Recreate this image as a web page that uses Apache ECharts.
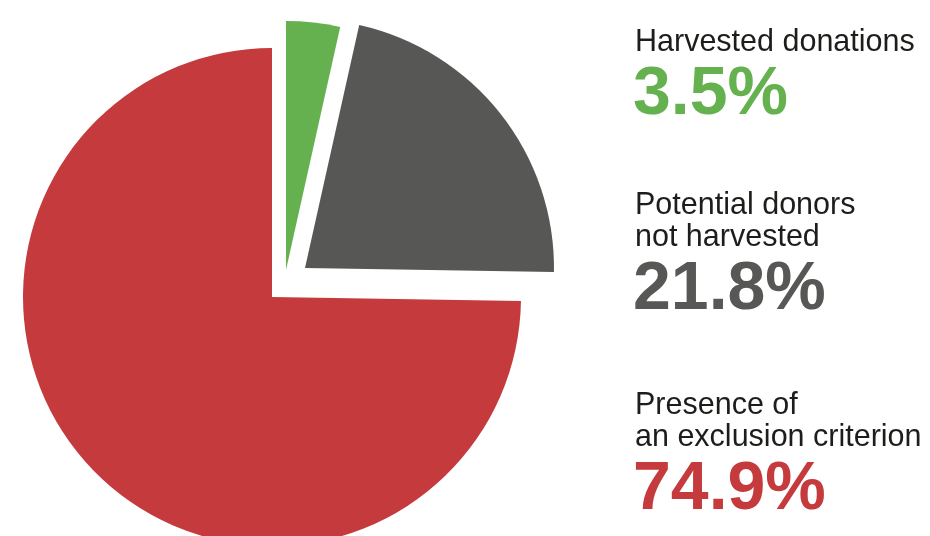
<!DOCTYPE html>
<html>
<head>
<meta charset="utf-8">
<script src="https://cdn.jsdelivr.net/npm/echarts@6/dist/echarts.min.js"></script>
<style>
html,body{margin:0;padding:0;background:#fff;}
#chart{width:930px;height:536px;}
</style>
</head>
<body>
<div id="chart"></div>
<script>
// Data
const categories = ['Harvested donations', 'Potential donors\nnot harvested', 'Presence of\nan exclusion criterion'];
const values = [3.5, 21.8, 74.9];
const colors = ['#65b14f', '#575756', '#c53a3d'];

// Layout (per-slice pie centers to reproduce exploded slices)
const centers = [[286, 270], [305, 268], [272, 297]];
const radius = 249;

const chart = echarts.init(document.getElementById('chart'), null, {renderer: 'canvas'});

const series = centers.map((c, i) => ({
  type: 'pie',
  center: c,
  radius: radius,
  startAngle: 90,
  clockwise: true,
  silent: true,
  animation: false,
  label: {show: false},
  labelLine: {show: false},
  emphasis: {disabled: true},
  itemStyle: {borderWidth: 0},
  data: values.map((v, j) => ({
    value: v,
    name: categories[j],
    itemStyle: {color: j === i ? colors[j] : 'rgba(0,0,0,0)', borderWidth: 0}
  }))
}));

// Text block positions (label first-line baseline, number baseline)
const blocks = [
  {labelBase: 51, numBase: 118},
  {labelBase: 214, numBase: 313},
  {labelBase: 414, numBase: 513}
];
const graphics = [];
const labelSize = 30.5, numSize = 68, lineH = 32;
categories.forEach((name, i) => {
  const lines = name.split('\n');
  lines.forEach((ln, k) => {
    graphics.push({
      type: 'text', left: 635, top: blocks[i].labelBase + k * lineH - labelSize * 0.8,
      style: {text: ln, fill: '#1d1d1b', font: 'normal ' + labelSize + 'px "Liberation Sans", Arial, sans-serif'}
    });
  });
  graphics.push({
    type: 'text', left: 633, top: blocks[i].numBase - numSize * 0.84,
    style: {text: values[i].toFixed(1) + '%', fill: colors[i], font: 'bold ' + numSize + 'px "Liberation Sans", Arial, sans-serif'}
  });
});

chart.setOption({
  backgroundColor: '#ffffff',
  animation: false,
  series: series,
  graphic: graphics
});
</script>
</body>
</html>
